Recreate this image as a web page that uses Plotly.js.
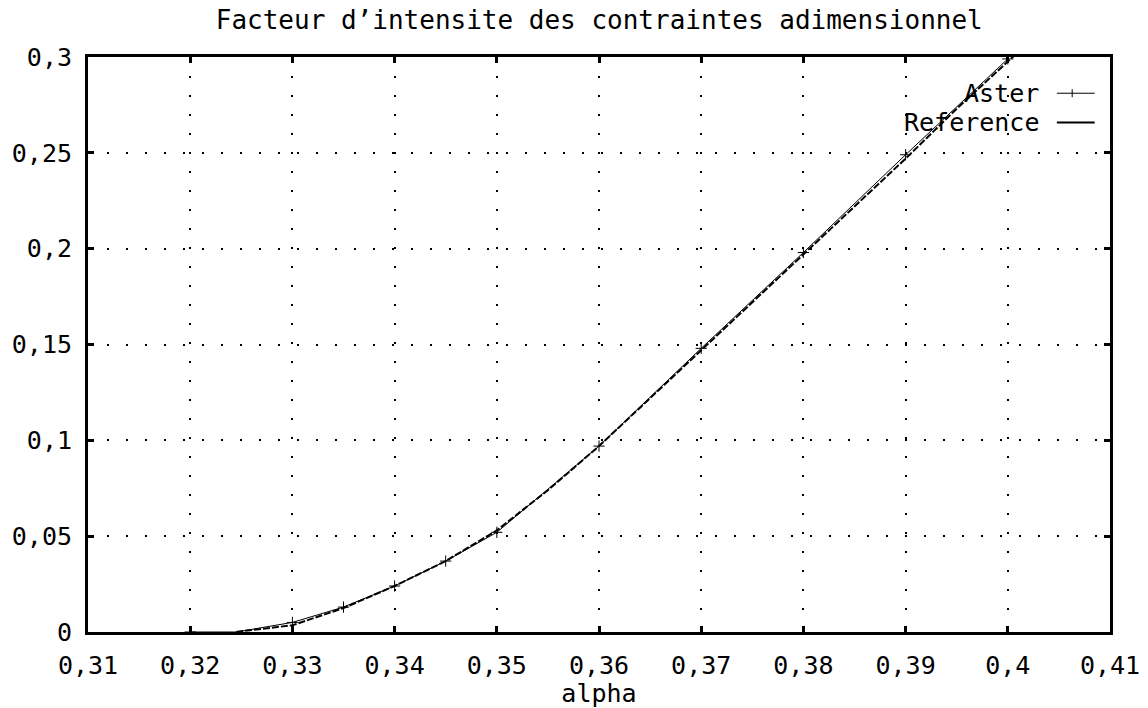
<!DOCTYPE html>
<html>
<head>
<meta charset="utf-8">
<script src="https://cdn.plot.ly/plotly-3.0.1.min.js"></script>
<style>body{margin:0;background:#fff;}#chart{width:1148px;height:708px;}</style>
</head>
<body>
<div id="chart"></div>
<script>
const asterAlpha = [0.32, 0.3245, 0.33, 0.335, 0.34, 0.345, 0.35, 0.36, 0.37, 0.38, 0.39, 0.40];
const asterK     = [0.0, 0.0, 0.005, 0.013, 0.024, 0.037, 0.052, 0.097, 0.148, 0.198, 0.249, 0.299];
const asterMarkAlpha = [0.32, 0.33, 0.335, 0.34, 0.345, 0.35, 0.36, 0.37, 0.38, 0.39, 0.40];
const asterMarkK     = [0.0, 0.005, 0.013, 0.024, 0.037, 0.052, 0.097, 0.148, 0.198, 0.249, 0.299];
const refAlpha = [0.3245, 0.325, 0.33, 0.335, 0.34, 0.345, 0.35, 0.355, 0.36, 0.365, 0.37, 0.375, 0.38, 0.385, 0.39, 0.395, 0.40, 0.4015];
const refK     = [0.0, 0.0004, 0.0035, 0.0125, 0.024, 0.037, 0.053, 0.074, 0.097, 0.122, 0.147, 0.172, 0.197, 0.222, 0.247, 0.273, 0.298, 0.305];
const xTickVals = [0.31, 0.32, 0.33, 0.34, 0.35, 0.36, 0.37, 0.38, 0.39, 0.40, 0.41];
const xTickText = ["0,31", "0,32", "0,33", "0,34", "0,35", "0,36", "0,37", "0,38", "0,39", "0,4", "0,41"];
const yTickVals = [0, 0.05, 0.1, 0.15, 0.2, 0.25, 0.3];
const yTickText = ["0", "0,05", "0,1", "0,15", "0,2", "0,25", "0,3"];
const titleText = "Facteur d’intensite des contraintes adimensionnel";
const xLabel = "alpha";
const seriesNames = ["Aster", "Reference"];

const FONT = "DejaVu Sans Mono, Liberation Mono, monospace";
const FS = 25;
const traces = [
  {x: refAlpha, y: refK, mode: "lines", name: seriesNames[1], line: {color: "#000", width: 2, dash: "7px,2px"}, showlegend: false},
  {x: asterAlpha, y: asterK, mode: "lines", name: seriesNames[0], line: {color: "#000", width: 1}, showlegend: false},
  {x: asterMarkAlpha, y: asterMarkK, mode: "markers", name: seriesNames[0], marker: {symbol: "cross-thin-open", size: 8, color: "#000", line: {color: "#000", width: 1}}, showlegend: false}
];
const axisCommon = {
  showline: true, linecolor: "#000", linewidth: 3, mirror: "ticks",
  ticks: "inside", ticklen: 6, tickwidth: 3, tickcolor: "#000",
  showgrid: true, gridcolor: "#000", gridwidth: 2, griddash: "2px,17px",
  zeroline: false, tickfont: {family: FONT, size: FS, color: "#000"}
};
const layout = {
  width: 1148, height: 708,
  paper_bgcolor: "#fff", plot_bgcolor: "#fff",
  margin: {l: 88, r: 38, t: 57, b: 76},
  title: {text: titleText, font: {family: FONT, size: FS + 1, color: "#000"}, x: 0.522, xanchor: "center", y: 0.972, yanchor: "middle"},
  xaxis: Object.assign({}, axisCommon, {range: [0.31, 0.41], tickvals: xTickVals, ticktext: xTickText, ticklabelstandoff: 9,
    title: {text: xLabel, font: {family: FONT, size: FS, color: "#000"}, standoff: 0}}),
  yaxis: Object.assign({}, axisCommon, {range: [0, 0.3], tickvals: yTickVals, ticktext: yTickText, ticklabelstandoff: 8}),
  annotations: [
    {xref: "paper", yref: "paper", x: 0.932, y: 0.937, xanchor: "right", yanchor: "middle", text: seriesNames[0], showarrow: false, font: {family: FONT, size: FS, color: "#000"}},
    {xref: "paper", yref: "paper", x: 0.932, y: 0.886, xanchor: "right", yanchor: "middle", text: seriesNames[1], showarrow: false, font: {family: FONT, size: FS, color: "#000"}}
  ],
  shapes: [
    {type: "line", xref: "paper", yref: "paper", x0: 0.948, x1: 0.985, y0: 0.937, y1: 0.937, line: {color: "#000", width: 1}},
    {type: "line", xref: "paper", yref: "paper", x0: 0.963, x1: 0.963, y0: 0.930, y1: 0.944, line: {color: "#000", width: 1}},
    {type: "line", xref: "paper", yref: "paper", x0: 0.948, x1: 0.985, y0: 0.886, y1: 0.886, line: {color: "#000", width: 2}}
  ]
};
Plotly.newPlot("chart", traces, layout, {displayModeBar: false, staticPlot: true});
</script>
</body>
</html>
